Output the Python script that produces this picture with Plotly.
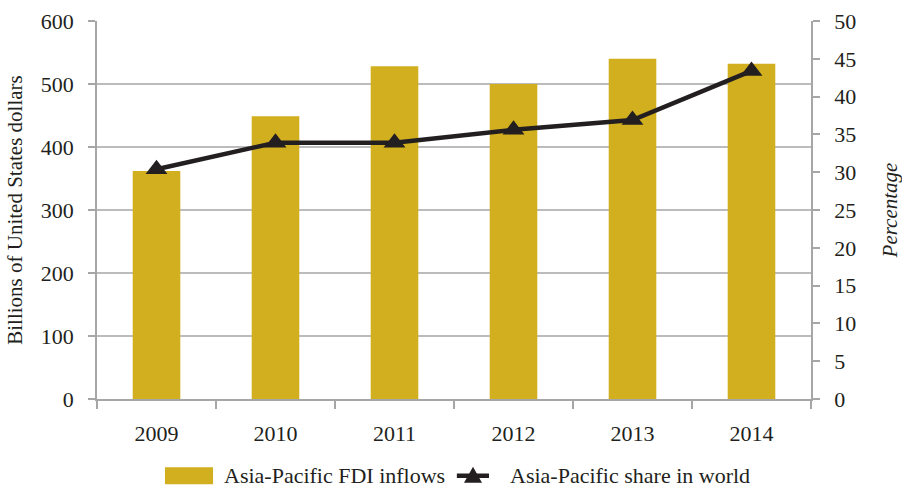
import plotly.graph_objects as go

# Asia-Pacific FDI inflows (billions of US dollars) and share of world inflows (%)
years = ["2009", "2010", "2011", "2012", "2013", "2014"]
fdi_inflows = [362, 449, 528, 500, 540, 532]
world_share = [30.4, 33.9, 33.9, 35.6, 36.9, 43.4]
left_ticks = [0, 100, 200, 300, 400, 500, 600]
right_ticks = list(range(0, 55, 5))

bar_name = "Asia-Pacific FDI inflows"
line_name = "Asia-Pacific share in world"

gold = "#D2AF1F"
ink = "#231F20"
axis_grey = "#A6A6A6"
font_family = "Liberation Serif, Times New Roman, serif"

fig = go.Figure()

fig.add_trace(go.Bar(
    x=years, y=fdi_inflows, name=bar_name,
    marker=dict(color=gold, line=dict(width=0)),
    width=0.4, yaxis="y", showlegend=False,
))

fig.add_trace(go.Scatter(
    x=years, y=world_share, name=line_name, yaxis="y2",
    mode="lines+markers",
    line=dict(color=ink, width=4.5),
    marker=dict(symbol="triangle-up", size=19, color=ink),
    showlegend=False,
))

# Horizontal gridlines for the inner ticks only (none along the top edge)
for v in left_ticks[1:-1]:
    fig.add_shape(type="line", xref="paper", yref="y", x0=0, x1=1, y0=v, y1=v,
                  line=dict(color=axis_grey, width=1.5), layer="below")

# Legend drawn below the plot: swatch + label for each series
legend_y = -0.203
fig.add_shape(type="rect", xref="paper", yref="paper",
              x0=0.0952, x1=0.1625, y0=legend_y - 0.0225, y1=legend_y + 0.0225,
              fillcolor=gold, line=dict(width=0))
fig.add_annotation(xref="paper", yref="paper", x=0.175, y=legend_y,
                   text=bar_name, showarrow=False, xanchor="left", yanchor="middle",
                   font=dict(size=22, color=ink, family=font_family))
fig.add_shape(type="line", xref="paper", yref="paper",
              x0=0.504, x1=0.549, y0=legend_y, y1=legend_y,
              line=dict(color=ink, width=4.5))
fig.add_shape(type="path", xref="paper", yref="paper",
              xsizemode="pixel", ysizemode="pixel",
              xanchor=0.5266, yanchor=legend_y,
              path="M -9 -7 L 9 -7 L 0 9 Z",
              fillcolor=ink, line=dict(width=0))
fig.add_annotation(xref="paper", yref="paper", x=0.575, y=legend_y,
                   text=line_name, showarrow=False, xanchor="left", yanchor="middle",
                   font=dict(size=22, color=ink, family=font_family))

fig.update_layout(
    width=902, height=488,
    margin=dict(l=97, r=91, t=21, b=89),
    paper_bgcolor="white", plot_bgcolor="white",
    font=dict(family=font_family, size=22, color=ink),
    showlegend=False,
    xaxis=dict(
        type="category", tickson="boundaries", automargin=False,
        ticks="outside", ticklen=8, tickcolor=axis_grey, tickwidth=1.5,
        showline=True, linecolor=axis_grey, linewidth=1.5,
        showgrid=False, ticklabelstandoff=14,
    ),
    yaxis=dict(
        range=[0, 600], tickvals=left_ticks, automargin=False,
        ticks="outside", ticklen=7, tickcolor=axis_grey, tickwidth=1.5,
        showline=True, linecolor=axis_grey, linewidth=1.5,
        showgrid=False, zeroline=False, ticklabelstandoff=10,
        title=dict(text="Billions of United States dollars", standoff=12,
                   font=dict(size=21)),
    ),
    yaxis2=dict(
        overlaying="y", side="right", automargin=False,
        range=[0, 50], tickvals=right_ticks,
        ticks="outside", ticklen=7, tickcolor=axis_grey, tickwidth=1.5,
        showline=True, linecolor=axis_grey, linewidth=1.5,
        showgrid=False, zeroline=False, ticklabelstandoff=10,
        title=dict(text="<i>Percentage</i>", standoff=30, font=dict(size=21)),
    ),
)

fig.write_html("out.html")
